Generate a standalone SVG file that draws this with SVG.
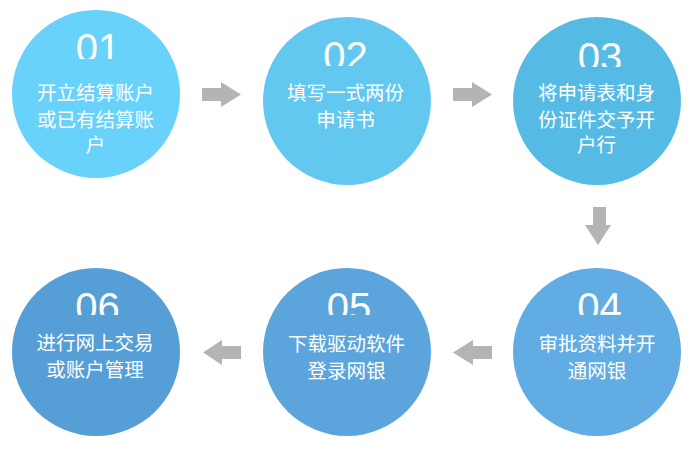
<svg xmlns="http://www.w3.org/2000/svg" width="690" height="450" viewBox="0 0 690 450">
<style>
.num{font-family:"Liberation Sans",Arial,sans-serif;font-size:40px;fill:#fff;text-anchor:middle}
.lbl{font-family:"Microsoft YaHei","Noto Sans CJK SC",sans-serif;font-size:19.5px;fill:#fff;text-anchor:middle}
.arr{fill:#b4b4b4}
</style>
<defs>
<clipPath id="c1"><rect x="0" y="0" width="200" height="59"/></clipPath>
<clipPath id="c2"><rect x="250" y="0" width="200" height="66"/></clipPath>
<clipPath id="c3"><rect x="500" y="0" width="200" height="67"/></clipPath>
<clipPath id="c4"><rect x="500" y="250" width="200" height="65"/></clipPath>
<clipPath id="c5"><rect x="250" y="250" width="200" height="65"/></clipPath>
<clipPath id="c6"><rect x="0" y="250" width="200" height="65"/></clipPath>
</defs>
<rect width="690" height="450" fill="#fff"/>
<g id="n1">
<circle cx="96" cy="94" r="84" fill="#69d2fb"/>
<text class="num" x="98" y="62" clip-path="url(#c1)">01</text>
<text class="lbl" x="95.5" y="100">开立结算账户</text>
<text class="lbl" x="95.5" y="127">或已有结算账</text>
<text class="lbl" x="95.5" y="152">户</text>
</g>
<g id="n2">
<circle cx="347" cy="101" r="84" fill="#62c8f0"/>
<text class="num" x="345.5" y="70" clip-path="url(#c2)">02</text>
<text class="lbl" x="345.5" y="100">填写一式两份</text>
<text class="lbl" x="345.5" y="127">申请书</text>
</g>
<g id="n3">
<circle cx="597" cy="101" r="84" fill="#56bbe4"/>
<text class="num" x="600" y="71" clip-path="url(#c3)">03</text>
<text class="lbl" x="596.5" y="100">将申请表和身</text>
<text class="lbl" x="596.5" y="127">份证件交予开</text>
<text class="lbl" x="596.5" y="152">户行</text>
</g>
<g id="n4">
<circle cx="597" cy="352" r="84" fill="#60ace3"/>
<text class="num" x="599.5" y="321" clip-path="url(#c4)">04</text>
<text class="lbl" x="597" y="351">审批资料并开</text>
<text class="lbl" x="597" y="378">通网银</text>
</g>
<g id="n5">
<circle cx="347" cy="352" r="84" fill="#5ca5dc"/>
<text class="num" x="349" y="321" clip-path="url(#c5)">05</text>
<text class="lbl" x="346.5" y="351">下载驱动软件</text>
<text class="lbl" x="346.5" y="378">登录网银</text>
</g>
<g id="n6">
<circle cx="96" cy="352" r="84" fill="#559ed6"/>
<text class="num" x="97.5" y="321" clip-path="url(#c6)">06</text>
<text class="lbl" x="95" y="350">进行网上交易</text>
<text class="lbl" x="95" y="377">或账户管理</text>
</g>
<g id="connectors">
<polygon class="arr" points="202,88 221,88 221,82 241,94.5 221,107 221,101 202,101"/>
<polygon class="arr" points="453,88 472,88 472,82 492,94.5 472,107 472,101 453,101"/>
<polygon class="arr" points="593,207 606,207 606,225 611,225 598,245 585,225 593,225"/>
<polygon class="arr" points="241,346 222,346 222,340 203,352.5 222,365 222,359 241,359"/>
<polygon class="arr" points="492,346 473,346 473,340 453,352.5 473,365 473,359 492,359"/>
</g>
</svg>
